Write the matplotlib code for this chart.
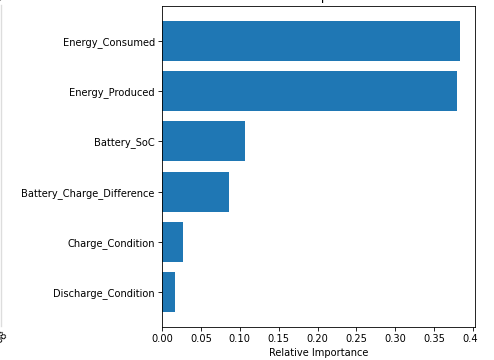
import matplotlib.pyplot as plt
from matplotlib.lines import Line2D
from matplotlib.patches import Rectangle
from matplotlib.ticker import MultipleLocator, FormatStrFormatter

# feature importance values (sorted, largest on top)
features = ['Discharge_Condition', 'Charge_Condition', 'Battery_Charge_Difference',
            'Battery_SoC', 'Energy_Produced', 'Energy_Consumed']
importances = [0.0167, 0.0270, 0.0862, 0.1064, 0.3800, 0.3834]

plt.rcParams['font.size'] = 7.1
plt.rcParams['axes.linewidth'] = 0.6
plt.rcParams['xtick.major.size'] = 2.6
plt.rcParams['ytick.major.size'] = 2.6
plt.rcParams['xtick.major.width'] = 0.6
plt.rcParams['ytick.major.width'] = 0.6
plt.rcParams['xtick.major.pad'] = 2.6
plt.rcParams['ytick.major.pad'] = 2.6

fig = plt.figure(figsize=(4.94, 3.6), dpi=100)

# edge of the neighbouring panel and its last tick label / title end
fig.add_artist(Line2D([0.003, 0.003], [0.095, 0.985], color='#dddddd', lw=1))
fig.text(0.004, 0.062, '08', rotation=45, ha='center', va='center', fontsize=7.1)
fig.text(0.008, 0.996, 'g)', ha='right', va='bottom', fontsize=7.1)

ax = fig.add_axes([0.328, 0.0917, 0.6335, 0.8916])
ax.barh(range(len(features)), importances, color='#1f77b4', align='center')
ax.set_yticks(range(len(features)))
ax.set_yticklabels(features)
ax.xaxis.set_major_locator(MultipleLocator(0.05))
ax.xaxis.set_major_formatter(FormatStrFormatter('%.2f'))
ax.set_xlabel('Relative Importance', labelpad=2.5)
ax.set_title('Feature Importances', fontsize=8.8, pad=4.5)

# blank strip on the right edge
fig.add_artist(Rectangle((478 / 494, 0), 1, 1, transform=fig.transFigure,
                         facecolor='white', edgecolor='none', zorder=10))

plt.savefig('out.png', dpi=100)
